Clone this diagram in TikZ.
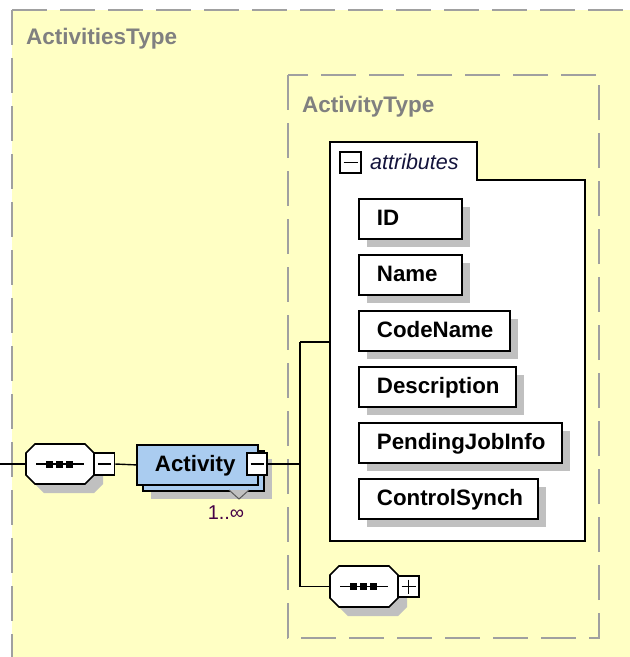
\documentclass[tikz,border=0pt]{standalone}
\usepackage{fontspec}
\setmainfont{Liberation Sans}
\usetikzlibrary{shadows}
\definecolor{bgyellow}{RGB}{255,255,196}
\definecolor{dashgrey}{RGB}{160,160,160}
\definecolor{labgrey}{RGB}{128,128,128}
\definecolor{shadowgrey}{RGB}{192,192,192}
\definecolor{actblue}{RGB}{170,204,240}
\definecolor{navy}{RGB}{20,20,60}
\definecolor{occpurple}{RGB}{70,0,70}
\tikzset{
  dashedbox/.style={draw=dashgrey, line width=1.8pt, dash pattern=on 35pt off 13pt},
  typelabel/.style={anchor=base west, inner sep=0pt, text=labgrey, font=\fontsize{22.5}{26}\selectfont\bfseries},
  dshadow/.style={drop shadow={shadow xshift=8pt, shadow yshift=-8pt, fill=shadowgrey, opacity=1}},
  elem/.style={draw=black, line width=1.8pt, fill=white, anchor=north west,
    minimum height=40pt, inner xsep=18pt, inner ysep=0pt, text height=17pt, text depth=3pt,
    text width=#1, align=left, font=\fontsize{22.3}{26}\selectfont\bfseries},
  minusbox/.style={draw=black, line width=1.5pt, fill=white, minimum width=20pt, minimum height=21pt, inner sep=0pt,
    path picture={\draw[line width=1.5pt] ([xshift=3.5pt]path picture bounding box.west) -- ([xshift=-3.5pt]path picture bounding box.east);}},
  plusbox/.style={draw=black, line width=1.5pt, fill=white, minimum width=21pt, minimum height=21pt, inner sep=0pt,
    path picture={\draw[line width=1.5pt] ([xshift=3.5pt]path picture bounding box.west) -- ([xshift=-3.5pt]path picture bounding box.east);
      \draw[line width=1.5pt] ([yshift=-3.5pt]path picture bounding box.north) -- ([yshift=3.5pt]path picture bounding box.south);}},
  seqanchor/.style={minimum width=#1, inner sep=0pt, outer sep=0pt},
  octline/.style={draw=black, line width=1.7pt, fill=white},
  conn/.style={draw=black, line width=1.4pt}
}
% name, cx, cy, w, h
\newcommand\seqshape[5]{%
  \node[seqanchor=#4pt, minimum height=#5pt] (#1) at (#2,#3) {};
  \pgfmathsetmacro\octL{#2-#4/2}\pgfmathsetmacro\octR{#2+#4/2}%
  \pgfmathsetmacro\octT{#3-#5/2}\pgfmathsetmacro\octB{#3+#5/2}%
  \fill[shadowgrey, shift={(9,9)}] (\octL+9,\octT) -- (\octR-9,\octT) -- (\octR,\octT+9) -- (\octR,\octB-9) -- (\octR-9,\octB) -- (\octL+9,\octB) -- (\octL,\octB-9) -- (\octL,\octT+9) -- cycle;
  \path[octline] (\octL+9,\octT) -- (\octR-9,\octT) -- (\octR,\octT+9) -- (\octR,\octB-9) -- (\octR-9,\octB) -- (\octL+9,\octB) -- (\octL,\octB-9) -- (\octL,\octT+9) -- cycle;
  \draw[line width=1.5pt] (#2-24,#3) -- (#2+24,#3);
  \foreach \d in {-10,0,10} \fill[black] (#2-1+\d-3.5,#3-3.5) rectangle (#2-1+\d+3.5,#3+3.5);
}
\begin{document}
\begin{tikzpicture}[x=1pt,y=-1pt]
\useasboundingbox (0,0) rectangle (630,657);
\clip (0,0) rectangle (630,657);
% outer type box
\fill[white] (0,0) rectangle (630,657);
\path[fill=bgyellow] (12,10) rectangle (700,720);
\draw[dashedbox] (12,10) -- (700,10);
\draw[dashedbox] (12,10) -- (12,720);
\node[typelabel] (outerlabel) at (26,44) {ActivitiesType};
% inner type box
\draw[dashedbox] (288,75) rectangle (599,638);
\node[typelabel] (innerlabel) at (302,112) {ActivityType};
% attributes box
\draw[fill=white, draw=black, line width=1.8pt] (330,142) -- (477,142) -- (477,180) -- (585,180) -- (585,541) -- (330,541) -- cycle;
\node[minusbox, minimum width=21pt] (attrm) at (350.5,162.5) {};
\node[anchor=base west, inner sep=0pt, text=navy, font=\fontsize{21.5}{25}\selectfont\itshape] (attrlabel) at (370,169) {attributes};
% attributes
\node[elem=67pt, dshadow] (aid)   at (358,198) {ID};
\node[elem=67pt, dshadow] (aname) at (358,254) {Name};
\node[elem=115pt, dshadow] (acode) at (358,310) {CodeName};
\node[elem=121pt, dshadow] (adesc) at (358,366) {Description};
\node[elem=167pt, dshadow] (apend) at (358,422) {PendingJobInfo};
\node[elem=143pt, dshadow] (actrl) at (358,478) {ControlSynch};
% left sequence
\coordinate (lin) at (0,464);
\seqshape{seq1}{60}{464}{68}{40}
\node[minusbox, minimum height=22pt] (seq1m) at (104.5,464) {};
% Activity element
\node[elem=85pt, fill=actblue, dshadow, text=white] (actback) at (142,450) {\phantom{Activity}};
\draw[draw=black!65, line width=1pt, fill=shadowgrey] (229,490) -- (239,499) -- (249,490);
\node[elem=85pt, fill=actblue] (act) at (136,444) {Activity};
\node[minusbox, minimum height=22pt] (actm) at (257,464) {};
\node[anchor=base, inner sep=0pt, text=occpurple, font=\fontsize{20}{24}\selectfont] (occ) at (226,519) {1..∞};
% junctions
\coordinate (j) at (300,464);
\coordinate (ja) at (300,342);
\coordinate (jb) at (300,586.5);
\coordinate (attrL) at (330,342);
% second sequence
\seqshape{seq2}{364}{586.5}{68}{41}
\node[plusbox] (seq2p) at (408.5,586.5) {};
% connectors
\draw[conn] (lin) -- (seq1.west);
\draw[conn] (seq1m.east) -- (act.west);
\draw[conn] (actm.east) -- (j);
\draw[conn] (ja) -- (jb);
\draw[conn] (ja) -- (attrL);
\draw[conn] (jb) -- (seq2.west);
\end{tikzpicture}
\end{document}
